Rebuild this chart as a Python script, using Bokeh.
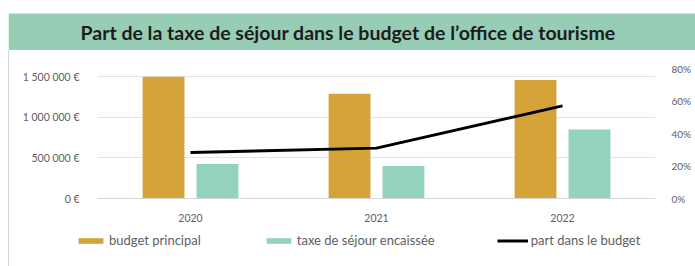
from bokeh.plotting import figure
from bokeh.models import (FactorRange, Range1d, LinearAxis, FixedTicker, Legend, LegendItem,
                          ColumnDataSource)
from bokeh.transform import dodge
from bokeh.core.properties import value
from bokeh.embed import file_html
from bokeh.resources import INLINE

# ---- data ----
title_text = "Part de la taxe de séjour dans le budget de l’office de tourisme"
years = ["2020", "2021", "2022"]
budget_principal = [1500000, 1290000, 1460000]
taxe_sejour = [425000, 400000, 850000]
part_budget = [0.283, 0.31, 0.57]
left_ticks = [0, 500000, 1000000, 1500000]
left_tick_labels = ["0 €", "500 000 €", "1 000 000 €", "1 500 000 €"]
right_ticks = [0, 0.2, 0.4, 0.6, 0.8]
right_tick_labels = ["0%", "20%", "40%", "60%", "80%"]
series_names = ["budget principal", "taxe de séjour encaissée", "part dans le budget"]

FONT = "Lato"
BAND = "#97ccb5"
GOLD = "#d4a43b"
TEAL = "#94d2c0"
GRAY_TXT = "#606060"
SIDE = {"margin-left": "8px", "border-left": "1px solid #d4d4d4"}

# ---- title band (separate root, full width) ----
TW, TH = 687, 50
t = figure(width=TW, height=TH, output_backend="svg", toolbar_location=None,
           x_range=Range1d(0, TW), y_range=Range1d(0, TH), min_border=0,
           styles={"margin-left": "8px"})
t.axis.visible = False
t.grid.visible = False
t.outline_line_color = None
t.quad(left=[0], right=[TW], bottom=[0], top=[37], fill_color=BAND, line_color=None)
t.text(x=[TW / 2 - 4], y=[18.5], text=[title_text], text_font=value(FONT),
       text_font_style="bold", text_font_size="19.5px", text_color="#1c1c1c",
       text_align="center", text_baseline="middle")

# ---- chart figure ----
src = ColumnDataSource(dict(years=years, budget=budget_principal, taxe=taxe_sejour, part=part_budget))
p = figure(frame_width=558, frame_height=130, output_backend="svg", toolbar_location=None,
           x_range=FactorRange(*years), y_range=Range1d(0, 1600000),
           min_border_left=88, min_border_right=40, min_border_top=18, min_border_bottom=26,
           styles=SIDE)
p.outline_line_color = None
p.xgrid.visible = False
p.ygrid.grid_line_color = "#e3e3e3"
p.ygrid.ticker = FixedTicker(ticks=left_ticks)

p.yaxis.ticker = FixedTicker(ticks=left_ticks)
p.yaxis.major_label_overrides = {k: v for k, v in zip(left_ticks, left_tick_labels)}
p.yaxis.axis_line_color = None
p.yaxis.major_tick_line_color = None
p.yaxis.minor_tick_line_color = None
p.yaxis.major_label_standoff = 12
p.yaxis.major_label_text_font = FONT
p.yaxis.major_label_text_font_size = "10.5px"
p.yaxis.major_label_text_color = GRAY_TXT

p.xaxis.axis_line_color = "#d6d6d6"
p.xaxis.major_tick_line_color = None
p.xaxis.minor_tick_line_color = None
p.xaxis.major_label_standoff = 9
p.xaxis.major_label_text_font = FONT
p.xaxis.major_label_text_font_size = "10.5px"
p.xaxis.major_label_text_color = GRAY_TXT

p.extra_y_ranges = {"pct": Range1d(0, 0.8)}
ra = LinearAxis(y_range_name="pct", ticker=FixedTicker(ticks=right_ticks))
ra.major_label_overrides = {k: v for k, v in zip(right_ticks, right_tick_labels)}
ra.axis_line_color = None
ra.major_tick_line_color = None
ra.minor_tick_line_color = None
ra.major_label_standoff = 10
ra.major_label_text_font = FONT
ra.major_label_text_font_size = "10px"
ra.major_label_text_color = GRAY_TXT
p.add_layout(ra, "right")

p.vbar(x=dodge("years", -0.145, range=p.x_range), top="budget", width=0.225, source=src,
       fill_color=GOLD, line_color=None)
p.vbar(x=dodge("years", 0.145, range=p.x_range), top="taxe", width=0.225, source=src,
       fill_color=TEAL, line_color=None)
p.line(x="years", y="part", source=src, y_range_name="pct", line_color="black", line_width=3)

# ---- legend strip (separate root; its glyphs lie outside its visible range) ----
lg = figure(width=686, height=42, output_backend="svg", toolbar_location=None,
            x_range=FactorRange(*years), y_range=Range1d(2000000, 3000000), min_border=0,
            styles=SIDE)
lg.axis.visible = False
lg.grid.visible = False
lg.outline_line_color = None
l1 = lg.vbar(x="years", top="budget", width=0.225, source=src, fill_color=GOLD, line_color=None)
l2 = lg.vbar(x="years", top="taxe", width=0.225, source=src, fill_color=TEAL, line_color=None)
l3 = lg.line(x="years", y="part", source=src, line_color="black", line_width=3)

legend = Legend(items=[LegendItem(label=series_names[0], renderers=[l1]),
                       LegendItem(label=series_names[1], renderers=[l2]),
                       LegendItem(label=series_names[2], renderers=[l3])],
                orientation="horizontal", location=(66, 18), padding=0, margin=0,
                spacing=62, glyph_width=31, glyph_height=7, label_height=16,
                label_standoff=3, border_line_color=None, background_fill_alpha=0,
                label_text_font=FONT, label_text_font_size="13px", label_text_color=GRAY_TXT)
lg.add_layout(legend, "center")

open("out.html", "w").write(file_html([t, p, lg], INLINE))
